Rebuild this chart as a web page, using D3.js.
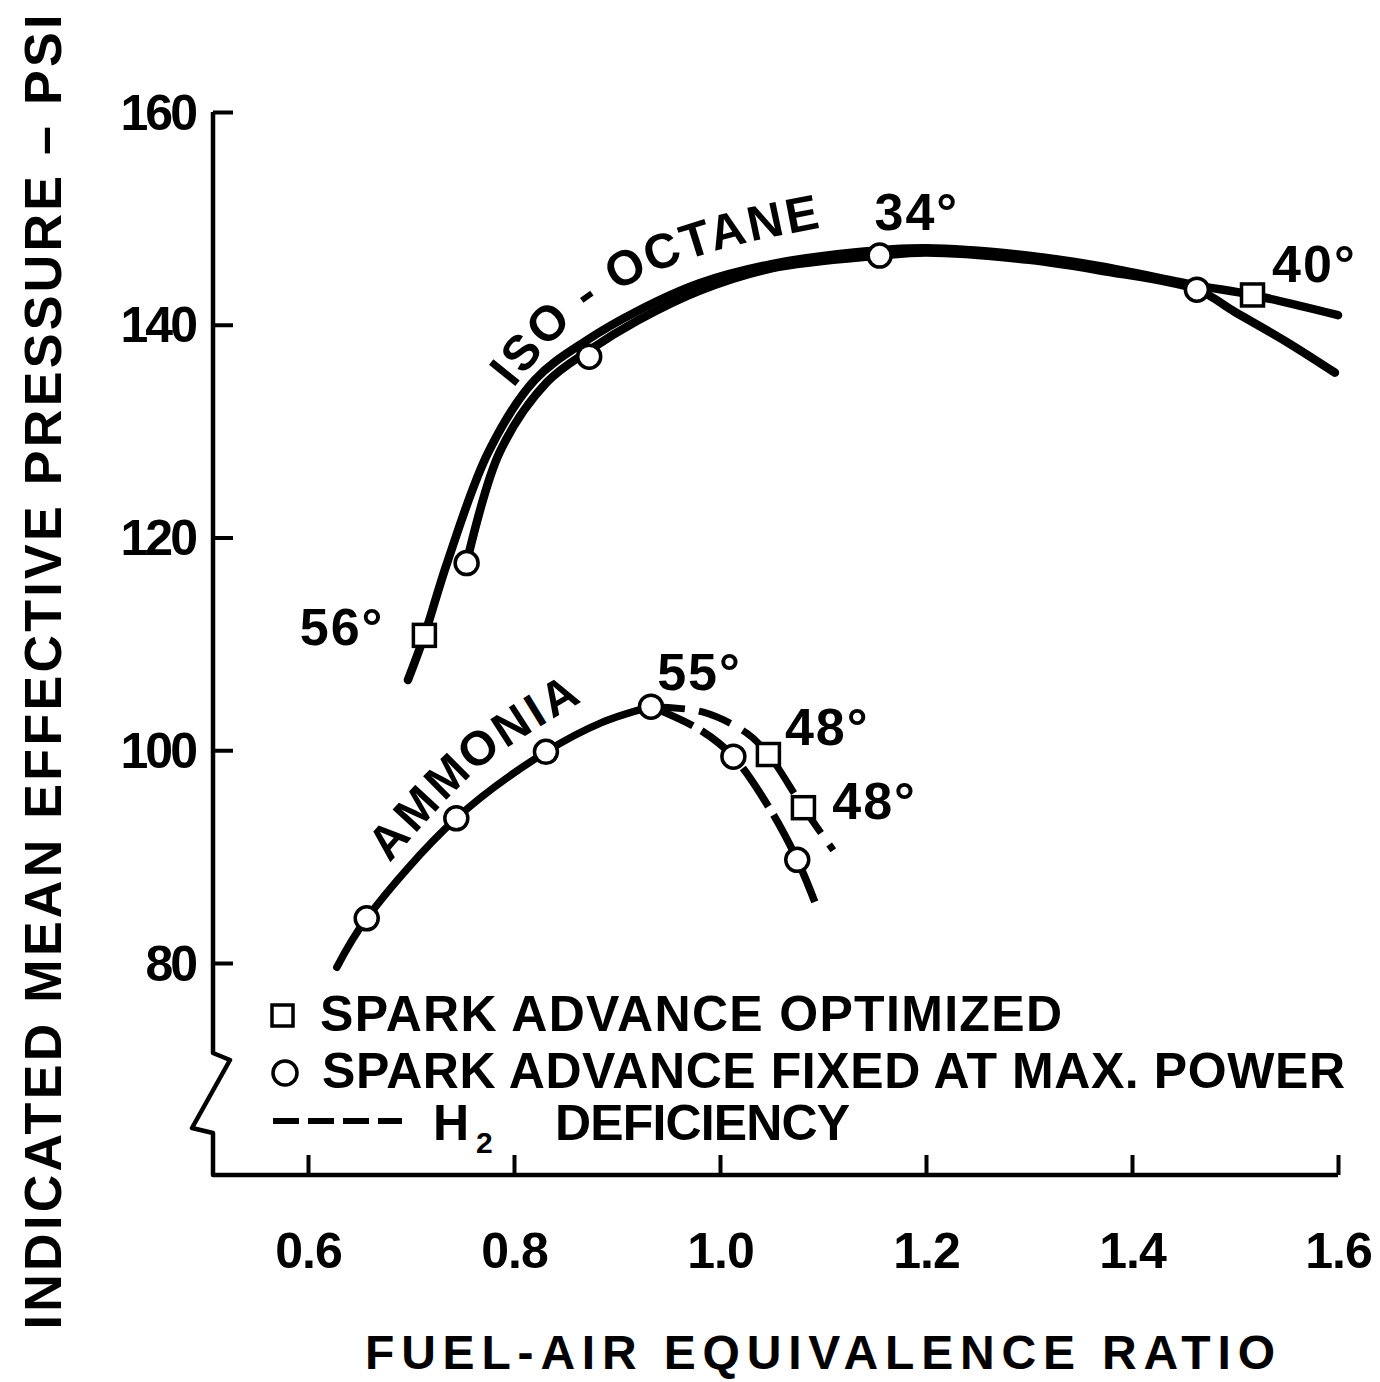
<!DOCTYPE html>
<html>
<head>
<meta charset="utf-8">
<script src="https://cdn.jsdelivr.net/npm/d3@7"></script>
<style>
  html, body { margin: 0; padding: 0; background: #fff; }
  svg { display: block; }
  text { font-family: "Liberation Sans", Arial, sans-serif; font-weight: 700; fill: #000; }
</style>
</head>
<body>
<svg id="chart" width="1380" height="1382"></svg>
<script>
// IMEP (psi) against fuel-air equivalence ratio for iso-octane and ammonia

const xTicks = [0.6, 0.8, 1.0, 1.2, 1.4, 1.6];
const yTicks = [80, 100, 120, 140, 160];

// Iso-octane, spark advance optimized: [equivalence ratio, imep]
const isoOptimized = [
  [0.697, 106.6], [0.713, 110.8], [0.735, 117.6], [0.775, 128.0], [0.820, 134.8],
  [0.870, 138.5], [0.920, 141.3], [0.980, 143.9], [1.050, 145.7], [1.130, 146.8],
  [1.200, 147.2], [1.300, 146.5], [1.369, 145.5], [1.463, 143.7], [1.517, 142.8],
  [1.600, 140.9]
];
// Iso-octane, spark advance fixed at max. power
const isoFixed = [
  [0.754, 117.6], [0.786, 128.0], [0.832, 134.6], [0.873, 137.6], [0.920, 140.4],
  [0.980, 143.2], [1.050, 145.3], [1.155, 146.5], [1.200, 146.8], [1.300, 146.1],
  [1.369, 145.1], [1.463, 143.3], [1.500, 141.2], [1.550, 138.4], [1.597, 135.5]
];
const isoSquares = [[0.713, 110.8], [1.517, 142.8]];
const isoCircles = [[0.754, 117.6], [0.873, 137.0], [1.155, 146.5], [1.463, 143.3]];

// Ammonia, lean side up to the peak (solid)
const nh3Lean = [
  [0.628, 79.6], [0.657, 84.2], [0.744, 93.6], [0.831, 99.85], [0.885, 102.6], [0.933, 104.1]
];
// Ammonia, rich side, spark fixed
const nh3RichFixed = [
  [0.933, 104.1], [0.981, 101.9], [1.013, 99.4], [1.049, 94.4], [1.075, 89.7], [1.092, 85.75]
];
// Ammonia, rich side, spark optimized
const nh3RichOptimized = [
  [0.933, 104.1], [0.983, 103.6], [1.026, 101.6], [1.047, 99.6], [1.081, 94.6], [1.110, 90.6]
];
const nh3Circles = [[0.657, 84.2], [0.744, 93.6], [0.831, 99.85], [0.933, 104.1], [1.013, 99.4], [1.075, 89.7]];
const nh3Squares = [[1.047, 99.6], [1.081, 94.6]];

// Spark advance notes
const sparkLabels = ["56°", "34°", "40°", "55°", "48°", "48°"];
const sparkAnchors = [[0.592, 109.9], [1.150, 148.9], [1.536, 144.0], [0.939, 105.7], [1.063, 100.5], [1.109, 93.5]];

const legendLabels = ["SPARK ADVANCE OPTIMIZED", "SPARK ADVANCE FIXED AT MAX. POWER", "DEFICIENCY"];

const svg = d3.select("#chart");
const x = d3.scaleLinear().domain([0.6, 1.6]).range([308, 1338]);
const y = d3.scaleLinear().domain([80, 160]).range([963, 112]);

const axisX0 = 213, axisY0 = 1175;

// Axes
const gx = svg.append("g").attr("transform", `translate(0,${axisY0})`)
  .call(d3.axisBottom(x).tickValues(xTicks).tickSize(-20).tickPadding(0).tickFormat(d3.format(".1f")));
gx.select(".domain").remove();
gx.selectAll(".tick line").attr("stroke", "#000").attr("stroke-width", 4);
gx.selectAll(".tick text").attr("y", 93).attr("dy", null)
  .style("font-size", "50px").style("letter-spacing", "-1px").attr("fill", "#000");

const gy = svg.append("g").attr("transform", `translate(${axisX0},0)`)
  .call(d3.axisLeft(y).tickValues(yTicks).tickSize(-20).tickPadding(18));
gy.select(".domain").remove();
gy.selectAll(".tick line").attr("stroke", "#000").attr("stroke-width", 4);
gy.selectAll(".tick text").style("font-size", "50px").style("letter-spacing", "-3px")
  .attr("dy", "0.34em").attr("fill", "#000");

// Axis frame with a break in the y axis
const frame = d3.path();
frame.moveTo(axisX0, y(160));
frame.lineTo(axisX0, 1053);
frame.lineTo(230, 1060);
frame.lineTo(192, 1128);
frame.lineTo(axisX0, 1133);
frame.lineTo(axisX0, axisY0);
frame.lineTo(x(1.6), axisY0);
svg.append("path").attr("d", frame.toString())
  .attr("fill", "none").attr("stroke", "#000").attr("stroke-width", 4.5)
  .attr("stroke-linejoin", "round");

// Axis titles
svg.append("text")
  .attr("transform", "translate(61,672) rotate(-90)")
  .attr("text-anchor", "middle")
  .attr("textLength", 1315).attr("lengthAdjust", "spacing")
  .style("font-size", "52px")
  .text("INDICATED MEAN EFFECTIVE PRESSURE – PSI");

svg.append("text")
  .attr("x", 365).attr("y", 1369)
  .attr("textLength", 910).attr("lengthAdjust", "spacing")
  .style("font-size", "48px")
  .text("FUEL-AIR EQUIVALENCE RATIO");

// Curves
const line = d3.line().x(d => x(d[0])).y(d => y(d[1])).curve(d3.curveCatmullRom.alpha(0.5));
const curve = (data, width, dash) => svg.append("path")
  .attr("d", line(data)).attr("fill", "none").attr("stroke", "#000")
  .attr("stroke-width", width).attr("stroke-linecap", dash ? "butt" : "round")
  .attr("stroke-linejoin", "round").attr("stroke-dasharray", dash || null);

curve(isoOptimized, 8.5);
curve(isoFixed, 8.5);
curve(nh3Lean, 7.5);
curve(nh3RichFixed, 7.5, "46,10");
curve(nh3RichOptimized, 7, "34,14");

// Markers
const circles = (data) => svg.append("g").selectAll("circle").data(data).join("circle")
  .attr("cx", d => x(d[0])).attr("cy", d => y(d[1])).attr("r", 11.5)
  .attr("fill", "#fff").attr("stroke", "#000").attr("stroke-width", 3.5);
const squares = (data) => svg.append("g").selectAll("rect").data(data).join("rect")
  .attr("x", d => x(d[0]) - 11).attr("y", d => y(d[1]) - 11).attr("width", 22).attr("height", 22)
  .attr("fill", "#fff").attr("stroke", "#000").attr("stroke-width", 3.5);

circles(isoCircles);
squares(isoSquares);
circles(nh3Circles);
squares(nh3Squares);

// Spark advance notes
svg.append("g").selectAll("text").data(sparkLabels).join("text")
  .attr("x", (d, i) => x(sparkAnchors[i][0]))
  .attr("y", (d, i) => y(sparkAnchors[i][1]))
  .style("font-size", "52px").style("letter-spacing", "2px")
  .text(d => d);

// Curve names set along their curves
const labelPath = d3.line().curve(d3.curveCatmullRom.alpha(0.5));
const defs = svg.append("defs");
defs.append("path").attr("id", "isoPath")
  .attr("d", labelPath([[500, 378], [553, 318], [630, 265], [720, 232], [828, 209]]));
defs.append("path").attr("id", "nh3Path")
  .attr("d", labelPath([[377, 852], [470, 754], [582, 682]]));

svg.append("text").style("font-size", "49px").attr("dominant-baseline", "central")
  .append("textPath").attr("href", "#isoPath").style("letter-spacing", "3.5px")
  .text("ISO - OCTANE");
svg.append("text").style("font-size", "48px").attr("dominant-baseline", "central")
  .append("textPath").attr("href", "#nh3Path").style("letter-spacing", "4px")
  .text("AMMONIA");

// Legend
const lg = svg.append("g");
lg.append("rect").attr("x", 272).attr("y", 1005).attr("width", 21).attr("height", 21)
  .attr("fill", "#fff").attr("stroke", "#000").attr("stroke-width", 3.5);
lg.append("circle").attr("cx", 285).attr("cy", 1073).attr("r", 12)
  .attr("fill", "#fff").attr("stroke", "#000").attr("stroke-width", 3.5);
lg.append("line").attr("x1", 273).attr("x2", 402).attr("y1", 1121).attr("y2", 1121)
  .attr("stroke", "#000").attr("stroke-width", 6).attr("stroke-dasharray", "26,9");

lg.append("text").attr("x", 320).attr("y", 1031)
  .attr("textLength", 742).attr("lengthAdjust", "spacing")
  .style("font-size", "50px").text(legendLabels[0]);
lg.append("text").attr("x", 322).attr("y", 1088)
  .attr("textLength", 1023).attr("lengthAdjust", "spacing")
  .style("font-size", "50px").text(legendLabels[1]);
const h2 = lg.append("text").attr("y", 1140).style("font-size", "50px");
h2.append("tspan").attr("x", 433).text("H");
h2.append("tspan").attr("x", 476).attr("y", 1153).style("font-size", "30px").text("2");
lg.append("text").attr("x", 555).attr("y", 1140)
  .attr("textLength", 295).attr("lengthAdjust", "spacing")
  .style("font-size", "50px").text(legendLabels[2]);
</script>
</body>
</html>
